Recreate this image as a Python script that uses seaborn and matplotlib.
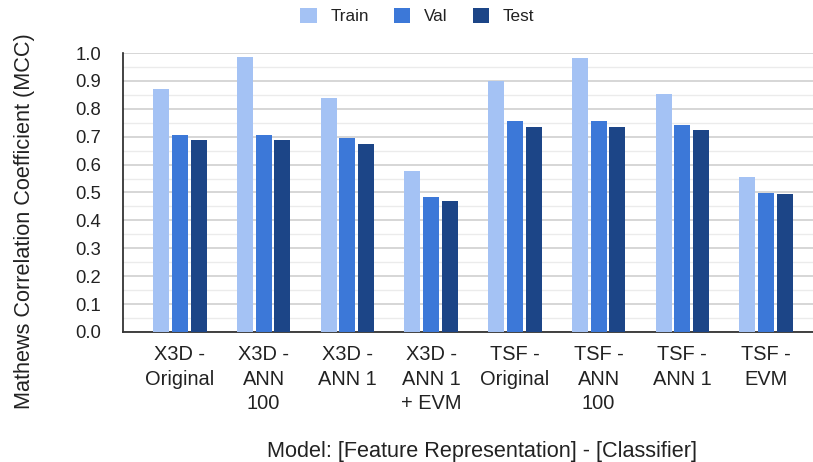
import numpy as np
import pandas as pd
import seaborn as sns
import matplotlib
matplotlib.use("Agg")
from matplotlib import pyplot as plt
from matplotlib.ticker import MultipleLocator
from matplotlib.patches import Patch

models = ["X3D -\nOriginal", "X3D -\nANN\n100", "X3D -\nANN 1", "X3D -\nANN 1\n+ EVM",
          "TSF -\nOriginal", "TSF -\nANN\n100", "TSF -\nANN 1", "TSF -\nEVM"]
splits = ["Train", "Val", "Test"]
train = [0.870, 0.987, 0.839, 0.576, 0.900, 0.982, 0.853, 0.556]
val = [0.705, 0.705, 0.696, 0.485, 0.756, 0.756, 0.741, 0.499]
test = [0.689, 0.689, 0.674, 0.470, 0.736, 0.736, 0.725, 0.494]
colors = ["#a4c2f4", "#3c78d8", "#1c4587"]

data = pd.DataFrame({
    "model": models * 3,
    "split": np.repeat(splits, len(models)),
    "mcc": train + val + test,
})

sns.set_style("white")
plt.rcParams["font.family"] = ["Liberation Sans", "DejaVu Sans"]
plt.rcParams["text.color"] = "#222222"

fig = plt.figure(figsize=(8.13, 4.62), dpi=100)
ax = fig.add_axes([123 / 813, 1 - 332 / 462, 1 - 123 / 813, (332 - 53) / 462])

sns.barplot(data=data, x="model", y="mcc", hue="split", palette=colors,
            width=0.672, gap=0.15, saturation=1, ax=ax, legend=False,
            edgecolor="none", zorder=3)

ax.set_ylim(0, 1.0)
ax.set_xlim(-0.68, 7.56)
ax.yaxis.set_major_locator(MultipleLocator(0.1))
ax.yaxis.set_minor_locator(MultipleLocator(0.05))
ax.yaxis.set_major_formatter(matplotlib.ticker.FormatStrFormatter("%.1f"))
ax.grid(axis="y", which="major", color="#cccccc", lw=1.1, zorder=0)
ax.grid(axis="y", which="minor", color="#ebebeb", lw=1.0, zorder=0)
ax.set_axisbelow(True)

ax.tick_params(axis="y", which="major", direction="inout", length=12.2, width=1.2,
               color="#222222", pad=9.7, labelsize=13.3, labelcolor="#222222")
ax.tick_params(axis="y", which="minor", length=0)
ax.tick_params(axis="x", length=0, pad=9.5, labelsize=14.4, labelcolor="#222222")
for lab in ax.get_xticklabels():
    lab.set_linespacing(1.37)

for s in ["top", "right"]:
    ax.spines[s].set_visible(False)
ax.spines["left"].set_color("#222222")
ax.spines["left"].set_linewidth(1.2)
ax.spines["bottom"].set_color("#333333")
ax.spines["bottom"].set_linewidth(1.3)

ax.set_xlabel("")
ax.set_ylabel("")
fig.text(25 / 813, 1 - 221.5 / 462, "Mathews Correlation Coefficient (MCC)",
         rotation=90, ha="center", va="center", fontsize=15.6, color="#222222")
fig.text(482 / 813, 1 - 452 / 462, "Model: [Feature Representation] - [Classifier]",
         ha="center", va="center", fontsize=15.6, color="#222222")

handles = [Patch(facecolor=c, edgecolor="none") for c in colors]
fig.legend(handles, splits, loc="center", bbox_to_anchor=(417.5 / 813, 1 - 16 / 462),
           ncol=3, frameon=False, fontsize=12.3, handlelength=0.94, handleheight=0.94,
           handletextpad=0.8, columnspacing=1.5)

fig.savefig("out.png", dpi=100)
